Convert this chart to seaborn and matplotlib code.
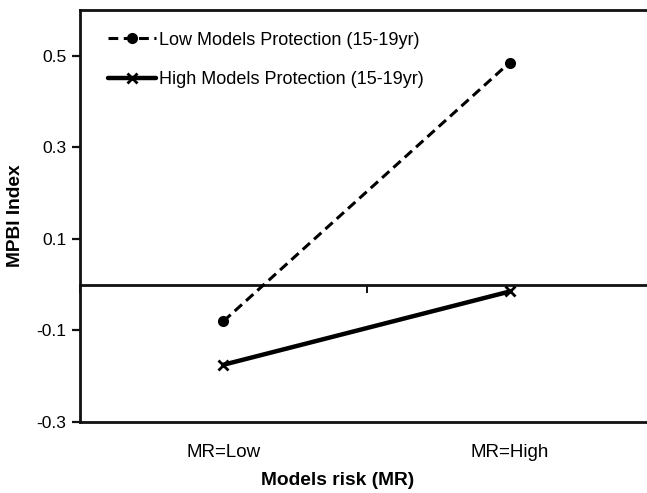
import matplotlib
matplotlib.use("Agg")
import matplotlib.pyplot as plt
import seaborn as sns
import pandas as pd

# data
risk_levels = ["MR=Low", "MR=High"]
low_protection = [-0.08, 0.485]
high_protection = [-0.175, -0.015]
series_names = ["Low Models Protection (15-19yr)", "High Models Protection (15-19yr)"]
y_ticks = [-0.3, -0.1, 0.1, 0.3, 0.5]
y_range = (-0.3, 0.6)

sns.set_theme(style="white")
plt.rcParams["font.family"] = ["Liberation Sans", "DejaVu Sans"]
plt.rcParams["text.color"] = "black"
plt.rcParams["axes.labelcolor"] = "black"
plt.rcParams["xtick.color"] = "black"
plt.rcParams["ytick.color"] = "black"

df_low = pd.DataFrame({"risk": risk_levels, "value": low_protection})
df_high = pd.DataFrame({"risk": risk_levels, "value": high_protection})

fig = plt.figure(figsize=(6.47, 4.93), dpi=100)
ax = fig.add_axes([0.124, 0.144, 0.885, 0.836])

sns.lineplot(data=df_low, x="risk", y="value", sort=False, ax=ax,
             color="black", lw=2.2, linestyle=(0, (3.2, 1.8)),
             marker="o", markersize=8, markeredgewidth=0,
             label=series_names[0])
sns.lineplot(data=df_high, x="risk", y="value", sort=False, ax=ax,
             color="black", lw=3.2, linestyle="-",
             marker="x", markersize=7, markeredgewidth=2,
             markeredgecolor="black",
             label=series_names[1])

ax.set_xlim(-0.5, len(risk_levels) - 0.5)
ax.set_ylim(*y_range)
ax.set_yticks(y_ticks)
ax.set_yticklabels([f"{t:.1f}" for t in y_ticks])

for side in ["left", "top", "bottom"]:
    ax.spines[side].set_color("#111111")
    ax.spines[side].set_linewidth(2)
ax.spines["right"].set_visible(False)

ax.tick_params(axis="y", direction="out", length=6, width=1.6,
               color="#111111", labelsize=12.5, pad=4, left=True)
ax.tick_params(axis="x", length=0, labelsize=13.5, pad=16)

# zero line acting as the category axis, with boundary ticks
zero_frac = (0 - y_range[0]) / (y_range[1] - y_range[0])
sec = ax.secondary_xaxis(zero_frac)
sec.set_xticks([i + 0.5 for i in range(-1, len(risk_levels))])
sec.set_xticklabels([])
sec.tick_params(direction="out", length=6, width=1.4, color="#111111")
sec.spines["bottom"].set_linewidth(2)
sec.spines["bottom"].set_color("#111111")

ax.set_xlabel("Models risk (MR)", fontsize=13.8, fontweight="bold")
ax.set_ylabel("MPBI Index", fontsize=13.8, fontweight="bold")
ax.xaxis.set_label_coords(0.449, -0.122)
ax.yaxis.set_label_coords(-0.098, 0.5)

ax.legend(loc="upper left", bbox_to_anchor=(0.049, 0.947), frameon=False,
          borderpad=0, borderaxespad=0, handlelength=2.65, handletextpad=0.15,
          labelspacing=1.25, fontsize=13)

fig.savefig("out.png", dpi=100)
